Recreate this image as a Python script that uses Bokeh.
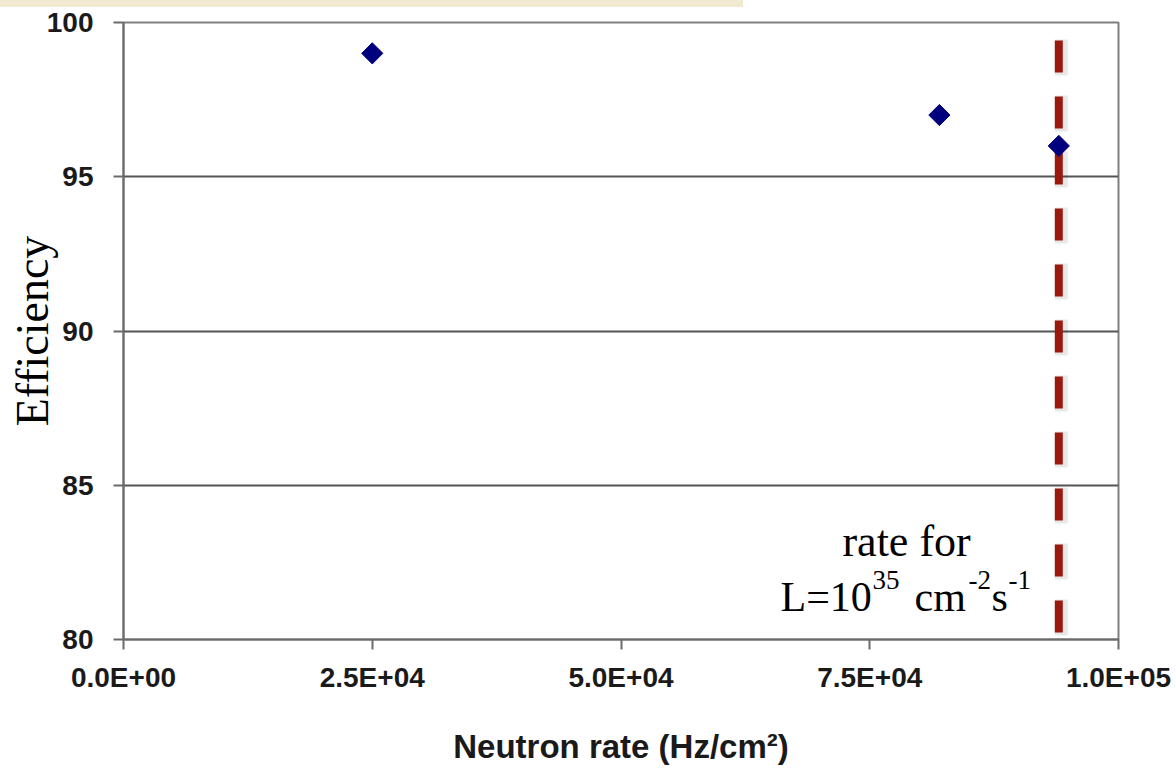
import math

from bokeh.embed import file_html
from bokeh.layouts import column
from bokeh.models import FixedTicker, Label, Range1d, Spacer
from bokeh.plotting import figure
from bokeh.resources import INLINE

# Measured efficiency versus neutron background rate
rate_hz_cm2 = [25000, 82000, 94000]
efficiency = [99, 97, 96]

# Neutron rate expected at L = 1e35 cm^-2 s^-1
lumi_rate = 94000

x_ticks = [0, 25000, 50000, 75000, 100000]
x_tick_labels = ["0.0E+00", "2.5E+04", "5.0E+04", "7.5E+04", "1.0E+05"]
y_ticks = [80, 85, 90, 95, 100]
y_tick_labels = ["80", "85", "90", "95", "100"]

SANS = "Liberation Sans"
SERIF = "Liberation Serif"

# beige strip along the top edge of the slide
strip = Spacer(width=743, height=7, styles={"background-color": "#f2ead0"})

p = figure(
    width=1176, height=762,
    x_range=Range1d(0, 100000), y_range=Range1d(80, 100),
    output_backend="svg", toolbar_location=None,
    min_border_left=123, min_border_right=58,
    min_border_top=15, min_border_bottom=130,
    background_fill_color="white", border_fill_color="white",
)

p.outline_line_color = "#808080"
p.outline_line_width = 2

# axes
for ax in (p.xaxis[0], p.yaxis[0]):
    ax.axis_line_color = "#6b6b6b"
    ax.axis_line_width = 2
    ax.major_tick_line_color = "#6b6b6b"
    ax.major_tick_line_width = 2
    ax.major_tick_in = 0
    ax.major_tick_out = 10
    ax.minor_tick_line_color = None
    ax.major_label_text_font = SANS
    ax.major_label_text_font_style = "bold"
    ax.major_label_text_font_size = "28px"
    ax.major_label_text_color = "#1a1a1a"

p.xaxis.ticker = FixedTicker(ticks=x_ticks)
p.xaxis.major_label_overrides = dict(zip(x_ticks, x_tick_labels))
p.xaxis.major_label_standoff = 12
p.xaxis.axis_label = "Neutron rate (Hz/cm²)"
p.xaxis.axis_label_text_font = SANS
p.xaxis.axis_label_text_font_style = "bold"
p.xaxis.axis_label_text_font_size = "33px"
p.xaxis.axis_label_text_color = "#1a1a1a"
p.xaxis.axis_label_standoff = 32

p.yaxis.ticker = FixedTicker(ticks=y_ticks)
p.yaxis.major_label_overrides = dict(zip(y_ticks, y_tick_labels))
p.yaxis.major_label_standoff = 20
p.yaxis.axis_label = "Efficiency"
p.yaxis.axis_label_text_font = SERIF
p.yaxis.axis_label_text_font_style = "normal"
p.yaxis.axis_label_text_font_size = "46px"
p.yaxis.axis_label_text_color = "black"
p.yaxis.axis_label_standoff = -14

p.xgrid.visible = False
p.ygrid.ticker = FixedTicker(ticks=y_ticks)
p.ygrid.grid_line_color = "#555555"
p.ygrid.grid_line_width = 2

# soft shadow under the luminosity marker line, then the line itself
p.segment(x0=[lumi_rate + 250], y0=[99.449], x1=[lumi_rate + 250], y1=[80.1],
          line_color="black", line_alpha=0.09, line_width=13, line_dash="36 20")
p.segment(x0=[lumi_rate], y0=[99.42], x1=[lumi_rate], y1=[80.2],
          line_color="#991a0d", line_width=8, line_dash="32 24")

# data points
p.scatter(rate_hz_cm2, efficiency, marker="square", angle=math.pi / 4,
          size=15, fill_color="#00007f", line_color="#00007f")

# luminosity annotation: "rate for / L=10^35 cm^-2 s^-1"
note_x, note_y1, note_y2 = 78700, 83.18, 81.39
p.add_layout(Label(x=note_x, y=note_y1, text="rate for", text_align="center",
                   text_baseline="alphabetic", text_font=SERIF,
                   text_font_size="44px", text_color="black"))

line2 = [("L=10", 0, False), ("35", 92, True), ("cm", 134, False),
         ("-2", 188, True), ("s", 211, False), ("-1", 228, True)]
line2_x = 66030
for txt, dx, sup in line2:
    p.add_layout(Label(x=line2_x, y=note_y2, x_offset=dx, y_offset=17 if sup else 0,
                       text=txt, text_align="left", text_baseline="alphabetic",
                       text_font=SERIF,
                       text_font_size="27px" if sup else "42px",
                       text_color="black"))

layout = column(strip, p, spacing=0)
open("out.html", "w").write(file_html(layout, INLINE))
